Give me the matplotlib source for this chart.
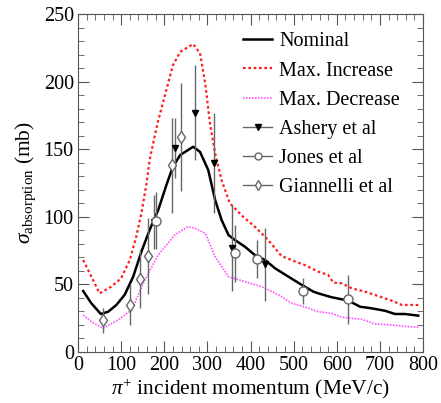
import matplotlib

matplotlib.use("Agg")
import matplotlib.pyplot as plt
from matplotlib.lines import Line2D
from matplotlib.ticker import MultipleLocator

plt.rcParams["font.family"] = ["Liberation Serif", "DejaVu Serif"]
plt.rcParams["mathtext.fontset"] = "custom"
plt.rcParams["mathtext.rm"] = "Liberation Serif"
plt.rcParams["mathtext.it"] = "Liberation Serif:italic"

# model curves (momentum in MeV/c, cross section in mb)
nominal_x = [12, 31, 53, 70, 89, 108, 128, 147, 166, 186, 205, 220, 237, 267, 283,
             302, 318, 333, 349, 364, 387, 410, 434, 457, 488, 519, 546, 557, 588,
             627, 654, 681, 712, 735, 758, 789]
nominal_y = [45.1, 36, 28.1, 29.8, 34.8, 42.2, 55.7, 74.2, 90.2, 105, 123.5, 137,
             145.7, 151.8, 148, 134.6, 112.4, 97.6, 86.5, 82.8, 77.9, 71.7, 68, 61.9,
             55.7, 49.6, 44.6, 43.4, 40.5, 38, 33.5, 32.3, 30.5, 28.1, 28.1, 26.9]

increase_x = [12, 31, 50, 77, 100, 120, 135, 147, 159, 166, 185, 205, 220, 237, 267,
              283, 295, 306, 318, 333, 352, 383, 410, 441, 472, 503, 526, 557, 580,
              592, 612, 635, 666, 696, 727, 751, 789]
increase_y = [68, 55.7, 43.4, 48.3, 54.5, 68, 85.3, 102.6, 124.8, 142, 170, 194, 212,
              222, 227.8, 221, 198.7, 169, 147, 127, 110, 100, 92.7, 82.8, 71, 67,
              64.3, 59.4, 57, 51.3, 50.8, 47.1, 44.6, 41.4, 38, 34.8, 34.8]

decrease_x = [12, 31, 58, 93, 124, 155, 186, 224, 255, 271, 295, 318, 349, 387, 426,
              465, 496, 526, 557, 588, 612, 658, 689, 727, 751, 789]
decrease_y = [27.4, 22.4, 17.5, 23.7, 31, 53.3, 71.7, 86.5, 92.7, 91.5, 87.8, 70.5,
              55.7, 52, 48.3, 42.2, 36, 33.3, 29.8, 28.6, 25.7, 24.2, 20.7, 20, 19.2,
              18.3]

# measurements
ashery_x = [176, 224, 271, 315, 358, 433]
ashery_y = [96, 151, 177, 140, 77, 65]
ashery_err = [20, 22, 35, 37, 32, 27]

jones_x = [182, 365, 416, 522, 625]
jones_y = [97, 73, 69, 45, 39]
jones_err = [21, 21, 14, 9.5, 18]

giannelli_x = [58, 120, 143, 163, 219, 238]
giannelli_y = [23.4, 35, 54, 71, 138, 159]
giannelli_err = [9, 15, 21.5, 28, 35, 40]

fig = plt.figure(figsize=(4.41, 4.03), dpi=100)
ax = fig.add_axes([78 / 441, 1 - 352 / 403, 345 / 441, 338 / 403])

ax.plot(nominal_x, nominal_y, color="black", lw=1.8)
ax.plot(increase_x, increase_y, color="#ff2020", lw=1.6, ls=(0, (1.2, 1.2)))
ax.plot(decrease_x, decrease_y, color="#ff55ff", lw=1.2, ls=(0, (1, 0.8)))

err_color = "#666666"
ax.errorbar(ashery_x, ashery_y, yerr=ashery_err, fmt="v", color=err_color,
            mfc="black", mec="black", ms=5, elinewidth=1, capsize=0)
ax.errorbar(jones_x, jones_y, yerr=jones_err, fmt="o", color=err_color,
            mfc="white", mec=err_color, ms=6.5, elinewidth=1, capsize=0)
ax.errorbar(giannelli_x, giannelli_y, yerr=giannelli_err, fmt="d", color=err_color,
            mfc="white", mec=err_color, ms=6.5, elinewidth=1, capsize=0)

ax.set_xlim(0, 800)
ax.set_ylim(0, 250)
ax.xaxis.set_major_locator(MultipleLocator(100))
ax.xaxis.set_minor_locator(MultipleLocator(20))
ax.yaxis.set_major_locator(MultipleLocator(50))
ax.yaxis.set_minor_locator(MultipleLocator(10))
ax.tick_params(which="both", direction="in", top=True, right=True,
               labelsize=14.5, color="#555555")
ax.tick_params(which="major", length=8)
ax.tick_params(which="minor", length=4)
ax.tick_params(axis="x", pad=3)
ax.tick_params(axis="y", pad=3)
for spine in ax.spines.values():
    spine.set_color("#555555")

ax.set_xlabel(r"$\pi^{+}$ incident momentum (MeV/c)", fontsize=15.5, labelpad=1)
ax.set_ylabel(r"$\sigma_{\rm absorption}$ (mb)", fontsize=15.5, labelpad=4)

handles = [
    Line2D([], [], color="black", lw=1.8),
    Line2D([], [], color="#ff2020", lw=1.6, ls=(0, (1.2, 1.2))),
    Line2D([], [], color="#ff55ff", lw=1.2, ls=(0, (1, 0.8))),
    Line2D([], [], color=err_color, lw=1, marker="v", mfc="black", mec="black", ms=4),
    Line2D([], [], color=err_color, lw=1, marker="o", mfc="white", mec=err_color, ms=5),
    Line2D([], [], color=err_color, lw=1, marker="d", mfc="white", mec=err_color, ms=5),
]
labels = ["Nominal", "Max. Increase", "Max. Decrease", "Ashery et al",
          "Jones et al", "Giannelli et al"]
ax.legend(handles, labels, loc="upper left", frameon=False, fontsize=14.5,
          handlelength=1.45, labelspacing=0.5, handletextpad=0.35,
          borderaxespad=0, borderpad=0, bbox_to_anchor=(0.478, 0.946))

fig.savefig("out.png", dpi=100)
